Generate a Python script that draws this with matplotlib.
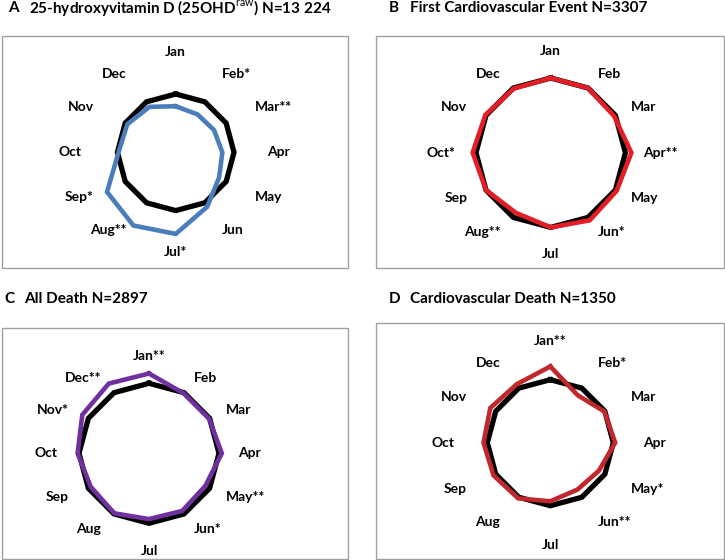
import numpy as np
import matplotlib
matplotlib.use('Agg')
import matplotlib.pyplot as plt
from matplotlib.patches import Rectangle

plt.rcParams['font.family'] = ['Lato', 'DejaVu Sans']
plt.rcParams['mathtext.fontset'] = 'custom'
plt.rcParams['mathtext.rm'] = 'Lato'
plt.rcParams['mathtext.bf'] = 'Lato:bold'

MONTHS = ['Jan', 'Feb', 'Mar', 'Apr', 'May', 'Jun',
          'Jul', 'Aug', 'Sep', 'Oct', 'Nov', 'Dec']

expected = [1.0] * 12

obs_vitd  = [0.79, 0.75, 0.76, 0.80, 0.86, 1.08, 1.40, 1.45, 1.36, 0.98, 0.96, 0.90]
obs_cve   = [1.00, 1.00, 0.98, 1.08, 1.02, 1.045, 1.00, 0.93, 1.00, 1.045, 1.01, 0.99]
obs_death = [1.14, 0.99, 0.99, 1.04, 0.93, 0.95, 0.94, 0.99, 0.96, 1.02, 1.10, 1.15]
obs_cvd   = [1.21, 0.87, 0.99, 1.03, 0.89, 0.86, 0.93, 1.02, 1.04, 1.06, 1.10, 1.07]

sig_vitd  = ['', '*', '**', '', '', '', '*', '**', '*', '', '', '']
sig_cve   = ['', '', '', '**', '', '*', '', '**', '', '*', '', '']
sig_death = ['**', '', '', '', '**', '*', '', '', '', '', '*', '**']
sig_cvd   = ['**', '*', '', '', '*', '**', '', '', '', '', '', '']

titles = [r'25-hydroxyvitamin D (25OHD$^{\mathrm{raw}}$) N=13 224',
          'First Cardiovascular Event N=3307',
          'All Death N=2897',
          'Cardiovascular Death N=1350']
letters = ['A', 'B', 'C', 'D']

# ── layout (pixels, image coords: y down) ────────────────────────────────────
W, H = 725, 560
panels = [
    # obs, sig, colour, centre, label radius px, expected radius px, box, title pos
    dict(obs=obs_vitd,  sig=sig_vitd,  color='#4A7EBB', c=(175.7, 152.3), R=90.0, r1=58.3,
         box=(2, 36, 348, 268), tl=(8, 29, 8.5)),
    dict(obs=obs_cve,   sig=sig_cve,   color='#E41E26', c=(550.7, 152.7), R=91.3, r1=74.7,
         box=(376, 36, 724, 268), tl=(389, 410, 8.5)),
    dict(obs=obs_death, sig=sig_death, color='#7030A0', c=(149.0, 453.3), R=87.5, r1=70.0,
         box=(2, 328, 348, 559), tl=(4, 24, 299)),
    dict(obs=obs_cvd,   sig=sig_cvd,   color='#C0282C', c=(550.3, 442.7), R=91.7, r1=63.0,
         box=(376, 323, 724, 559), tl=(389, 410, 299)),
]

fig = plt.figure(figsize=(W / 100, H / 100), dpi=100)

theta = np.deg2rad(np.arange(12) * 30.0)
theta_c = np.append(theta, theta[0])

for i, p in enumerate(panels):
    # frame box
    x0, y0, x1, y1 = p['box']
    fig.patches.append(Rectangle((x0 / W, 1 - y1 / H), (x1 - x0) / W, (y1 - y0) / H,
                                 transform=fig.transFigure, fill=False,
                                 ec='#A0A0A0', lw=1.0, zorder=0))
    # titles
    lx, tx, ty = p['tl']
    fig.text(lx / W, 1 - ty / H, letters[i], fontsize=11, fontweight='bold',
             ha='left', va='center')
    fig.text(tx / W, 1 - ty / H, titles[i], fontsize=11, fontweight='bold',
             ha='left', va='center')

    # radar axes
    cx, cy = p['c']
    R = p['R']
    ax = fig.add_axes([(cx - R) / W, 1 - (cy + R) / H, 2 * R / W, 2 * R / H],
                      projection='polar')
    ax.set_theta_zero_location('N')
    ax.set_theta_direction(-1)
    rmax = R / p['r1']
    ax.set_ylim(0, rmax)
    ax.set_axis_off()

    ax.plot(theta_c, np.append(expected, expected[0]), color='black', lw=3.8,
            solid_joinstyle='miter', zorder=3, clip_on=False)
    obs = np.asarray(p['obs'])
    ax.plot(theta_c, np.append(obs, obs[0]), color=p['color'], lw=3.3,
            solid_joinstyle='miter', zorder=4, clip_on=False)

    for k, m in enumerate(MONTHS):
        a = k * 30
        lab = m + p['sig'][k]
        if a == 0:
            ha, va, off = 'center', 'bottom', (0, 3)
        elif a == 180:
            ha, va, off = 'center', 'top', (0, -3)
        elif a < 180:
            ha, va, off = 'left', 'center', (1, 0)
        else:
            ha, va, off = 'right', 'center', (-3, 0)
        ax.annotate(lab, xy=(theta[k], rmax), xytext=off, textcoords='offset points',
                    ha=ha, va=va, fontsize=10, fontweight='bold',
                    annotation_clip=False)

fig.savefig('out.png', dpi=100, facecolor='white')
